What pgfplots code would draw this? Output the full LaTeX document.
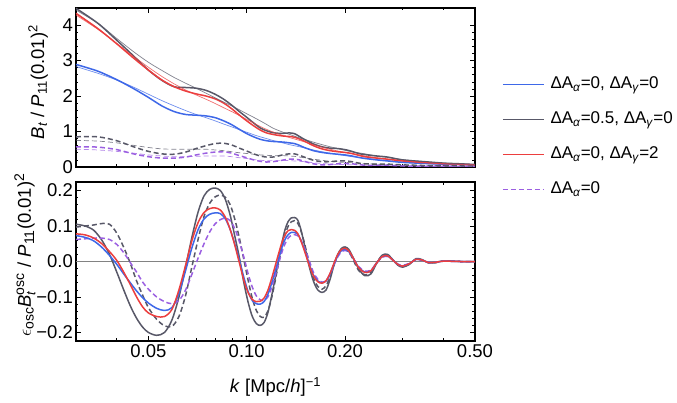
\RequirePackage{fix-cm}
\documentclass[border=0pt]{standalone}
\usepackage{amsmath}
\usepackage{fontspec}
\setmainfont{Liberation Sans}
\usepackage{pgfplots}
\pgfplotsset{compat=1.18}
\usepackage{pgfplotstable}
\newcommand{\fs}{\fontsize{18.5}{22}\selectfont}
\newcommand{\lfs}{\fontsize{17}{20}\selectfont}
\newcommand{\sss}[1]{\text{\fontsize{14}{16}\selectfont #1}}
\definecolor{bluec}{RGB}{62,104,232}
\definecolor{grayc}{RGB}{88,88,104}
\definecolor{redc}{RGB}{236,62,62}
\definecolor{purplec}{RGB}{155,95,225}
\definecolor{zeroc}{RGB}{130,130,130}

\pgfplotstableread{
k bt bn gt gn rt rn gdt gdn pdt pdn
0.03 2.89 2.83 4.47 4.42 4.33 4.28 0.85 0.75 0.57 0.50
0.035 2.70 2.64 4.05 4.05 3.90 3.88 0.85 0.73 0.56 0.48
0.04 2.46 2.45 3.57 3.62 3.47 3.48 0.74 0.68 0.49 0.44
0.045 2.21 2.25 3.13 3.25 3.07 3.12 0.57 0.61 0.37 0.39
0.05 1.96 2.05 2.73 2.95 2.73 2.81 0.44 0.55 0.29 0.34
0.055 1.72 1.87 2.44 2.72 2.45 2.55 0.37 0.51 0.25 0.31
0.06 1.56 1.72 2.26 2.52 2.26 2.34 0.36 0.50 0.25 0.29
0.065 1.48 1.59 2.24 2.36 2.14 2.17 0.42 0.50 0.28 0.29
0.07 1.46 1.48 2.22 2.22 2.06 2.03 0.52 0.50 0.34 0.30
0.075 1.44 1.39 2.16 2.08 2.00 1.91 0.60 0.50 0.39 0.31
0.08 1.39 1.30 2.05 1.95 1.92 1.79 0.66 0.48 0.42 0.31
0.085 1.30 1.21 1.91 1.83 1.80 1.67 0.67 0.46 0.43 0.31
0.09 1.19 1.13 1.74 1.72 1.64 1.56 0.62 0.43 0.39 0.29
0.095 1.06 1.05 1.56 1.61 1.46 1.45 0.53 0.40 0.32 0.26
0.1 0.94 0.98 1.40 1.50 1.30 1.34 0.45 0.38 0.26 0.24
0.105 0.85 0.91 1.24 1.40 1.16 1.24 0.37 0.36 0.20 0.21
0.11 0.78 0.85 1.10 1.30 1.04 1.14 0.31 0.34 0.16 0.19
0.115 0.74 0.80 1.02 1.20 0.96 1.06 0.28 0.33 0.14 0.18
0.12 0.72 0.75 0.97 1.10 0.92 0.99 0.28 0.32 0.15 0.18
0.125 0.71 0.71 0.95 1.03 0.89 0.93 0.31 0.32 0.17 0.18
0.13 0.70 0.67 0.95 0.97 0.87 0.88 0.35 0.32 0.20 0.18
0.135 0.68 0.63 0.96 0.92 0.86 0.83 0.37 0.31 0.22 0.18
0.14 0.66 0.60 0.94 0.87 0.84 0.79 0.37 0.30 0.22 0.17
0.145 0.61 0.57 0.86 0.82 0.79 0.75 0.33 0.28 0.20 0.16
0.15 0.55 0.54 0.78 0.78 0.73 0.71 0.28 0.26 0.16 0.15
0.16 0.46 0.48 0.65 0.70 0.60 0.63 0.19 0.22 0.09 0.12
0.17 0.41 0.43 0.57 0.63 0.51 0.56 0.15 0.19 0.06 0.10
0.18 0.38 0.39 0.53 0.57 0.46 0.50 0.15 0.16 0.07 0.08
0.19 0.36 0.35 0.52 0.52 0.43 0.45 0.17 0.14 0.09 0.07
0.2 0.34 0.32 0.49 0.47 0.41 0.41 0.17 0.13 0.10 0.07
0.21 0.31 0.29 0.44 0.43 0.38 0.37 0.15 0.12 0.09 0.06
0.22 0.27 0.27 0.38 0.40 0.33 0.34 0.11 0.11 0.07 0.06
0.23 0.24 0.25 0.35 0.37 0.29 0.31 0.09 0.10 0.05 0.05
0.25 0.20 0.21 0.31 0.31 0.25 0.26 0.08 0.08 0.05 0.04
0.27 0.17 0.18 0.28 0.27 0.22 0.22 0.08 0.07 0.05 0.04
0.3 0.13 0.14 0.20 0.21 0.17 0.17 0.06 0.06 0.03 0.03
0.35 0.10 0.10 0.15 0.15 0.12 0.12 0.04 0.05 0.02 0.02
0.4 0.08 0.08 0.11 0.11 0.09 0.09 0.03 0.04 0.02 0.02
0.45 0.07 0.07 0.09 0.09 0.07 0.07 0.03 0.03 0.01 0.01
0.5 0.06 0.06 0.07 0.07 0.06 0.06 0.02 0.02 0.01 0.01
}\up

\pgfplotstableread{
k b g r gd pd
0.030 0.073 0.105 0.078 0.097 0.062
0.032 0.068 0.100 0.075 0.100 0.064
0.034 0.058 0.088 0.066 0.103 0.066
0.036 0.040 0.060 0.050 0.107 0.066
0.038 0.017 0.020 0.028 0.105 0.062
0.040 -0.008 -0.030 0.003 0.080 0.048
0.042 -0.035 -0.080 -0.030 0.040 0.025
0.044 -0.060 -0.125 -0.065 -0.005 -0.003
0.046 -0.083 -0.160 -0.100 -0.055 -0.030
0.048 -0.102 -0.185 -0.128 -0.095 -0.058
0.050 -0.117 -0.200 -0.145 -0.130 -0.078
0.053 -0.132 -0.208 -0.155 -0.163 -0.100
0.056 -0.138 -0.200 -0.155 -0.181 -0.113
0.059 -0.130 -0.165 -0.135 -0.183 -0.119
0.062 -0.090 -0.100 -0.080 -0.155 -0.110
0.065 -0.025 -0.015 -0.010 -0.095 -0.080
0.068 0.040 0.070 0.060 -0.013 -0.035
0.071 0.090 0.140 0.110 0.063 0.010
0.074 0.120 0.185 0.138 0.127 0.050
0.077 0.133 0.203 0.149 0.164 0.083
0.080 0.137 0.207 0.151 0.182 0.106
0.083 0.135 0.200 0.145 0.187 0.118
0.086 0.120 0.175 0.125 0.181 0.122
0.089 0.090 0.130 0.090 0.160 0.115
0.092 0.048 0.070 0.045 0.118 0.092
0.095 0.003 0.010 -0.005 0.065 0.055
0.098 -0.045 -0.060 -0.053 0.005 0.012
0.101 -0.085 -0.115 -0.088 -0.053 -0.035
0.104 -0.110 -0.155 -0.107 -0.104 -0.072
0.107 -0.119 -0.175 -0.113 -0.138 -0.097
0.110 -0.120 -0.180 -0.112 -0.155 -0.108
0.113 -0.113 -0.172 -0.103 -0.157 -0.110
0.116 -0.093 -0.145 -0.082 -0.140 -0.100
0.119 -0.063 -0.100 -0.050 -0.105 -0.075
0.122 -0.030 -0.050 -0.015 -0.058 -0.042
0.125 0.005 0.000 0.020 -0.008 -0.008
0.128 0.038 0.050 0.052 0.038 0.025
0.131 0.062 0.090 0.075 0.075 0.050
0.134 0.076 0.113 0.087 0.100 0.066
0.137 0.082 0.123 0.090 0.112 0.074
0.140 0.082 0.124 0.088 0.115 0.076
0.143 0.078 0.118 0.080 0.109 0.073
0.146 0.063 0.095 0.062 0.091 0.063
0.150 0.035 0.050 0.032 0.054 0.040
0.155 -0.005 -0.010 -0.008 0.000 0.005
0.160 -0.038 -0.055 -0.040 -0.046 -0.030
0.165 -0.055 -0.080 -0.057 -0.070 -0.050
0.170 -0.060 -0.087 -0.061 -0.078 -0.058
0.175 -0.055 -0.080 -0.054 -0.068 -0.054
0.180 -0.035 -0.050 -0.033 -0.043 -0.036
0.185 -0.007 -0.010 -0.005 -0.009 -0.010
0.190 0.017 0.020 0.020 0.018 0.013
0.195 0.031 0.037 0.034 0.033 0.027
0.200 0.034 0.041 0.037 0.035 0.031
0.205 0.029 0.035 0.031 0.027 0.027
0.210 0.015 0.018 0.016 0.012 0.015
0.220 -0.016 -0.020 -0.017 -0.025 -0.014
0.230 -0.030 -0.040 -0.031 -0.038 -0.027
0.240 -0.026 -0.035 -0.026 -0.030 -0.024
0.250 -0.004 -0.005 -0.004 -0.003 -0.004
0.260 0.014 0.018 0.014 0.016 0.012
0.270 0.016 0.020 0.016 0.018 0.014
0.280 0.004 0.005 0.004 0.005 0.004
0.290 -0.008 -0.010 -0.008 -0.009 -0.007
0.300 -0.013 -0.016 -0.013 -0.014 -0.011
0.315 -0.006 -0.008 -0.006 -0.007 -0.005
0.330 0.006 0.008 0.006 0.007 0.005
0.345 0.004 0.005 0.004 0.004 0.003
0.360 -0.003 -0.004 -0.003 -0.003 -0.002
0.380 -0.002 -0.003 -0.002 -0.003 -0.002
0.400 0.001 0.002 0.001 0.002 0.001
0.450 0.000 0.000 0.000 0.000 0.000
0.500 0.000 0.000 0.000 0.000 0.000
}\lo

\tikzset{
  thk/.style={line width=1.5pt, smooth},
  thn/.style={line width=0.7pt, opacity=0.75, smooth},
  dsh/.style={dash pattern=on 5pt off 3pt},
}

\begin{document}
\begin{tikzpicture}
\useasboundingbox (0pt,0pt) rectangle (677pt,-403pt);
\begin{axis}[
  xmode=log,
  scale only axis, width=399pt, height=159pt,
  xmin=0.03, xmax=0.5,
  xtick={0.05,0.1,0.2,0.5},
  minor xtick={0.03,0.04,0.06,0.07,0.08,0.09,0.3,0.4},
  tick align=inside, xtick pos=both, ytick pos=both,
  major tick length=5pt, minor tick length=2.5pt,
  every tick/.style={black, line width=0.6pt},
  axis line style={line width=1.5pt},
  font=\fs, tick label style={font=\fs},
  yticklabel style={inner xsep=3pt},
  /pgf/number format/assume math mode=true,
  at={(76pt,-8pt)}, anchor=north west,
  ymin=0, ymax=4.48,
  ytick={0,1,2,3,4}, minor y tick num=4,
  xticklabels={,,,},
  ylabel={\textit{B}$_{\textit{t}}$ / \textit{P}$_{\text{11}}$(0.01)$^{\text{2}}$},
  ylabel style={at={(axis description cs:-0.095,0.535)}, anchor=center},
  legend style={at={(axis description cs:1.0677,0.575)}, anchor=north west,
    draw=none, fill=none, inner sep=0pt, outer sep=0pt, row sep=17pt,
    nodes={inner sep=0pt, text height=13pt, text depth=5pt}, font=\lfs},
  legend cell align=left,
  legend image code/.code={\draw[#1] (0pt,0pt) -- (41pt,0pt); \path (47pt,0pt);},
]
\addplot[bluec, thk] table[x=k,y=bt] {\up};
\addlegendentry{ΔA\textsubscript{\textit{α}}=0, ΔA\textsubscript{\textit{γ}}=0}
\addplot[grayc, thk] table[x=k,y=gt] {\up};
\addlegendentry{ΔA\textsubscript{\textit{α}}=0.5, ΔA\textsubscript{\textit{γ}}=0}
\addplot[redc, thk] table[x=k,y=rt] {\up};
\addlegendentry{ΔA\textsubscript{\textit{α}}=0, ΔA\textsubscript{\textit{γ}}=2}
\addplot[purplec, thk, dsh] table[x=k,y=pdt] {\up};
\addlegendentry{ΔA\textsubscript{\textit{α}}=0}
\addplot[grayc, thk, dsh, forget plot] table[x=k,y=gdt] {\up};
\addplot[bluec, thn, forget plot] table[x=k,y=bn] {\up};
\addplot[grayc, thn, forget plot] table[x=k,y=gn] {\up};
\addplot[redc, thn, forget plot] table[x=k,y=rn] {\up};
\addplot[grayc, thn, dsh, forget plot] table[x=k,y=gdn] {\up};
\addplot[purplec, thn, dsh, forget plot] table[x=k,y=pdn] {\up};
\end{axis}

\begin{axis}[
  xmode=log,
  scale only axis, width=399pt, height=159pt,
  xmin=0.03, xmax=0.5,
  xtick={0.05,0.1,0.2,0.5},
  minor xtick={0.03,0.04,0.06,0.07,0.08,0.09,0.3,0.4},
  tick align=inside, xtick pos=both, ytick pos=both,
  major tick length=5pt, minor tick length=2.5pt,
  every tick/.style={black, line width=0.6pt},
  axis line style={line width=1.5pt},
  font=\fs, tick label style={font=\fs},
  yticklabel style={inner xsep=3pt},
  at={(76pt,-182pt)}, anchor=north west,
  ymin=-0.224, ymax=0.224,
  ytick={-0.2,-0.1,0,0.1,0.2}, minor y tick num=4,
  yticklabels={−0.2,−0.1,0.0,0.1,0.2},
  xticklabels={0.05,0.10,0.20,0.50},
  ylabel={$\epsilon_{\sss{osc}}$\textit{B}$_{\textit{t}}^{\sss{osc}}$ / \textit{P}$_{\sss{11}}$(0.01)$^{\sss{2}}$},
  ylabel style={at={(axis description cs:-0.128,0.54)}, anchor=center},
  xlabel={\textit{k} [Mpc/\textit{h}]$^{\text{−1}}$},
  xlabel style={at={(axis description cs:0.5,-0.327)}, anchor=base},
]
\addplot[zeroc, line width=1pt] coordinates {(0.03,0) (0.5,0)};
\addplot[grayc, thk] table[x=k,y=g] {\lo};
\addplot[grayc, thk, dsh] table[x=k,y=gd] {\lo};
\addplot[purplec, thk, dsh] table[x=k,y=pd] {\lo};
\addplot[bluec, thk] table[x=k,y=b] {\lo};
\addplot[redc, thk] table[x=k,y=r] {\lo};
\end{axis}
\end{tikzpicture}
\end{document}
